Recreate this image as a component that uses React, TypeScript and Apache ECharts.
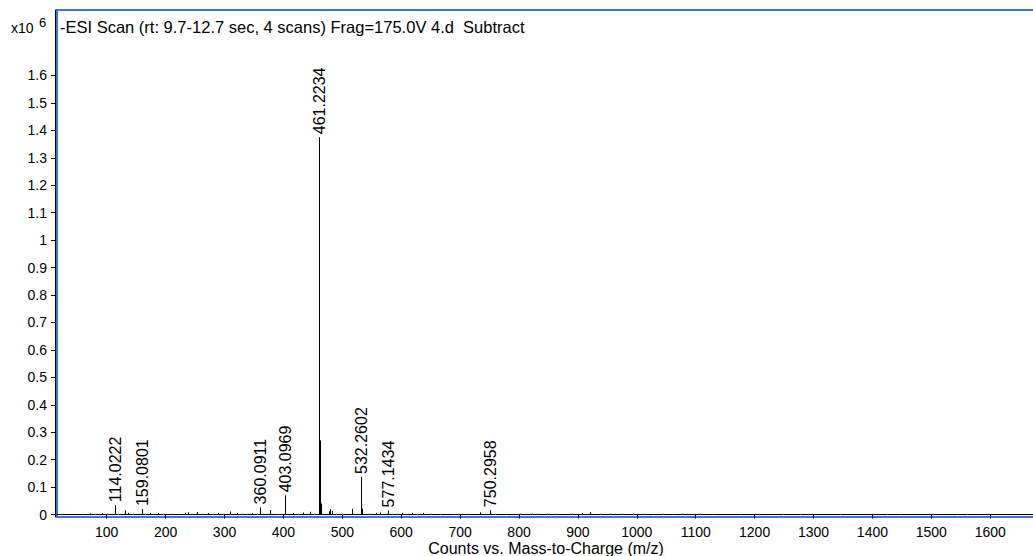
import React, { useEffect, useRef } from "react";
import * as echarts from "echarts";

// Intensities are in units of x10^6 counts
const labeledMz = [114.0222, 159.0801, 360.0911, 403.0969, 461.2234, 532.2602, 577.1434, 750.2958];
const labeledInt = [0.034, 0.02, 0.026, 0.07, 1.375, 0.137, 0.015, 0.016];
const labeledText = ["114.0222", "159.0801", "360.0911", "403.0969", "461.2234", "532.2602", "577.1434", "750.2958"];

// unlabeled (black) minor peaks
const minorMz = [71.6, 91.5, 131, 136, 173.5, 187.6, 233, 238.5, 252.8, 272.5, 289.5, 309.3, 320.7, 346, 377, 416.8, 433.8, 445, 462.226, 463.23, 477.5, 479, 482, 516, 533.26, 558, 564, 601, 618, 637.5, 734, 906.5, 920.5];
const minorInt = [0.004, 0.005, 0.015, 0.006, 0.005, 0.006, 0.007, 0.008, 0.009, 0.005, 0.006, 0.011, 0.006, 0.005, 0.016, 0.006, 0.007, 0.01, 0.27, 0.04, 0.012, 0.02, 0.014, 0.021, 0.022, 0.006, 0.008, 0.007, 0.006, 0.006, 0.008, 0.006, 0.009];

// baseline noise (grey)
const noiseMz = [60, 80, 100, 120, 145, 165, 195, 210, 222, 262, 280, 298, 330, 338, 355, 390, 424, 452, 490, 500, 545, 585, 592, 626, 650, 665, 690, 712, 760, 778, 801.7, 821.5, 830, 847, 861, 889.5, 937.5, 954.5, 974, 994, 1011, 1028, 1045, 1062, 1076, 1107, 1130, 1175, 1249, 1277, 1345, 1424, 1447, 1543, 1560];
const noiseInt = [0.003, 0.003, 0.004, 0.003, 0.004, 0.003, 0.003, 0.004, 0.003, 0.004, 0.003, 0.003, 0.004, 0.003, 0.004, 0.003, 0.004, 0.004, 0.003, 0.004, 0.004, 0.003, 0.004, 0.003, 0.004, 0.003, 0.003, 0.004, 0.004, 0.003, 0.005, 0.006, 0.004, 0.005, 0.004, 0.005, 0.004, 0.005, 0.004, 0.006, 0.004, 0.003, 0.004, 0.003, 0.005, 0.005, 0.003, 0.003, 0.003, 0.003, 0.003, 0.003, 0.003, 0.003, 0.003];

const yTicks = [0, 0.1, 0.2, 0.3, 0.4, 0.5, 0.6, 0.7, 0.8, 0.9, 1, 1.1, 1.2, 1.3, 1.4, 1.5, 1.6];
const xTicks = [100, 200, 300, 400, 500, 600, 700, 800, 900, 1000, 1100, 1200, 1300, 1400, 1500, 1600];

const FONT = '"Liberation Sans", Arial, Helvetica, sans-serif';
const TITLE = "-ESI Scan (rt: 9.7-12.7 sec, 4 scans) Frag=175.0V 4.d  Subtract";

function stickRender(color: string) {
  return (params: any, api: any) => {
    const x = api.value(0);
    const y = api.value(1);
    const p0 = api.coord([x, 0]);
    const p1 = api.coord([x, y]);
    const px = Math.round(p0[0]) + 0.5;
    return {
      type: "line",
      shape: { x1: px, y1: p0[1], x2: px, y2: p1[1] },
      style: { stroke: color, lineWidth: 1 },
    };
  };
}

export default function App() {
  const ref = useRef<HTMLDivElement>(null);
  useEffect(() => {
    if (!ref.current) return;
    const chart = echarts.init(ref.current, undefined, { renderer: "svg" });
    const labeledData = labeledMz.map((m, i) => [m, labeledInt[i], labeledText[i]]);
    chart.setOption({
      animation: false,
      grid: {
        left: 57,
        top: 10,
        right: -2,
        bottom: 39,
        show: true,
        containLabel: false,
        outerBoundsMode: "none",
        borderColor: "#3f74d4",
        borderWidth: 2,
        backgroundColor: "transparent",
      },
      xAxis: {
        type: "value",
        min: 15.6,
        max: 1676,
        offset: 2,
        axisLine: { show: true, lineStyle: { color: "#000", width: 1 } },
        axisTick: { show: true, length: 4, lineStyle: { color: "#000" }, customValues: xTicks },
        axisLabel: {
          color: "#000",
          fontSize: 14,
          fontFamily: FONT,
          margin: 6,
          customValues: xTicks,
          formatter: (v: number) => String(Math.round(v)),
        },
        splitLine: { show: false },
        name: "Counts vs. Mass-to-Charge (m/z)",
        nameLocation: "middle",
        nameGap: 21,
        nameMoveOverlap: false,
        nameTextStyle: { color: "#000", fontSize: 16, lineHeight: 16, fontFamily: FONT, verticalAlign: "top" },
      },
      yAxis: {
        type: "value",
        min: -0.009,
        max: 1.8386,
        offset: 2,
        axisLine: { show: true, lineStyle: { color: "#000", width: 1 } },
        axisTick: { show: true, length: 4, lineStyle: { color: "#000" }, customValues: yTicks },
        axisLabel: {
          color: "#000",
          fontSize: 14,
          fontFamily: FONT,
          margin: 8,
          customValues: yTicks,
          formatter: (v: number) => String(Math.round(v * 10) / 10),
        },
        splitLine: { show: false },
      },
      graphic: [
        { type: "text", left: 11, top: 21, style: { text: "x10", font: `14px ${FONT}`, fill: "#000" } },
        { type: "text", left: 39, top: 16, style: { text: "6", font: `13px ${FONT}`, fill: "#000" } },
        { type: "text", left: 60, top: 18, style: { text: TITLE, font: `16.5px ${FONT}`, fill: "#000" } },
      ],
      series: [
        {
          type: "custom",
          data: noiseMz.map((m, i) => [m, noiseInt[i]]),
          renderItem: stickRender("#9a9a9a"),
        },
        {
          type: "custom",
          data: minorMz.map((m, i) => [m, minorInt[i]]),
          renderItem: stickRender("#000"),
        },
        {
          type: "custom",
          data: labeledData,
          renderItem: (params: any, api: any) => {
            const x = api.value(0);
            const y = api.value(1);
            const p0 = api.coord([x, 0]);
            const p1 = api.coord([x, y]);
            const px = Math.round(p0[0]) + 0.5;
            const text = labeledText[params.dataIndex];
            return {
              type: "group",
              children: [
                {
                  type: "line",
                  shape: { x1: px, y1: p0[1], x2: px, y2: p1[1] },
                  style: { stroke: "#000", lineWidth: 1 },
                },
                {
                  type: "text",
                  x: px,
                  y: p1[1] - 3,
                  rotation: Math.PI / 2,
                  style: {
                    text,
                    fill: "#000",
                    font: `16px ${FONT}`,
                    align: "left",
                    verticalAlign: "middle",
                  },
                },
              ],
            };
          },
        },
      ],
    });
    return () => chart.dispose();
  }, []);
  return (
    <div
      ref={ref}
      style={{ position: "fixed", left: 0, top: 0, width: 1033, height: 556, background: "#fff" }}
    />
  );
}
